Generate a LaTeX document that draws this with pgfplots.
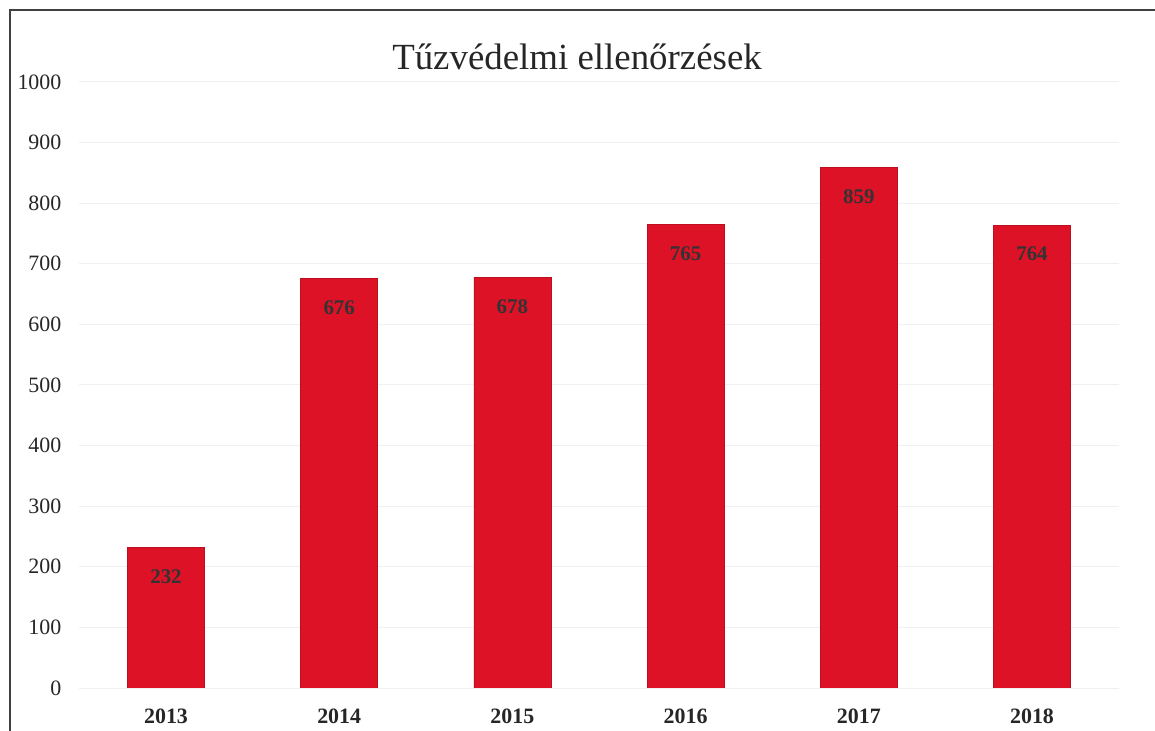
\documentclass[border=0pt]{standalone}
\usepackage{fontspec}
\setmainfont{Liberation Serif}
\usepackage{pgfplots}
\pgfplotsset{compat=1.18}
\definecolor{barred}{RGB}{222,18,38}
\begin{document}
\begin{tikzpicture}
\path[use as bounding box] (0,0) rectangle (577.5bp,365.5bp);
\draw[line width=1bp, black!75] (5bp,0) -- (5bp,360.5bp) -- (577.5bp,360.5bp);
\node[font=\fontsize{18.5}{22}\selectfont, text=black!85] at (288.5bp,337bp) {Tűzvédelmi ellenőrzések};
\begin{axis}[
  at={(39.7bp,21.5bp)}, anchor=south west,
  scale only axis, width=519.6bp, height=303bp,
  xmin=-0.5, xmax=5.5, ymin=0, ymax=1000,
  ytick={0,100,...,1000},
  xtick={0,1,2,3,4,5},
  xticklabels={2013,2014,2015,2016,2017,2018},
  axis line style={draw=none},
  major tick length=0pt,
  ymajorgrids, grid style={black!6, line width=0.5bp},
  /pgf/number format/assume math mode=true,
  /pgf/number format/1000 sep={},
  ticklabel style={font=\fontsize{11}{13}\selectfont, text=black!85},
  yticklabel style={xshift=-5.5bp},
  xticklabel style={font=\fontsize{11}{13}\selectfont\bfseries, yshift=-7bp},
  ybar, bar width=38.5bp,
  nodes near coords,
  every node near coord/.append style={anchor=north, yshift=-7.5bp, font=\fontsize{10.5}{12}\selectfont\bfseries, text=black!80},
]
\addplot[fill=barred, draw=barred!85!black, line width=0.4bp] coordinates {(0,232) (1,676) (2,678) (3,765) (4,859) (5,764)};
\end{axis}
\end{tikzpicture}
\end{document}
